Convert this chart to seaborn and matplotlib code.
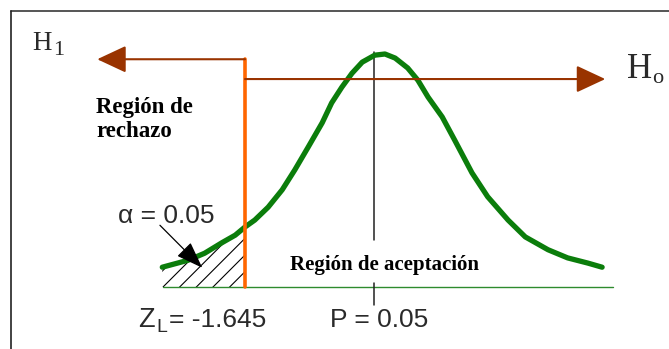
import numpy as np
import matplotlib
matplotlib.use("Agg")
import matplotlib.pyplot as plt
import seaborn as sns

# curve (z units, height in density units)
z_curve = [-2.70, -2.37, -2.16, -1.94, -1.77, -1.645, -1.52, -1.35, -1.17, -1.01,
           -0.84, -0.66, -0.54, -0.41, -0.28, -0.15, 0.01, 0.14, 0.27, 0.43,
           0.56, 0.69, 0.87, 1.03, 1.25, 1.45, 1.71, 1.93, 2.22, 2.47, 2.73, 2.91]
h_curve = [0.034, 0.046, 0.058, 0.076, 0.089, 0.103, 0.115, 0.137, 0.167, 0.201,
           0.240, 0.282, 0.316, 0.343, 0.367, 0.386, 0.398, 0.400, 0.393, 0.376,
           0.355, 0.326, 0.292, 0.252, 0.196, 0.155, 0.115, 0.086, 0.064, 0.050, 0.041, 0.034]

z_crit = -1.645
z_center = 0.0
baseline_z = [-2.69, 3.05]
h1_tip = -3.53
h1_level = 0.391
ho_tip = 2.95
ho_level = 0.357
center_top = 0.403
center_bottom = 0.081
tick_span = [-0.031, 0.007]

sns.set_theme(style="white")
plt.rcParams["font.family"] = ["Liberation Serif", "DejaVu Sans"]
plt.rcParams["hatch.linewidth"] = 0.8

fig = plt.figure(figsize=(6.69, 3.49), dpi=100)
ax = fig.add_axes([0, 0, 1, 1])
ax.set_xlim(-4.770, 3.763)
ax.set_ylim(-0.1064, 0.4927)
ax.axis("off")

# frame (only top and left show)
fig.add_artist(plt.Line2D([11 / 669, 1], [1 - 11 / 349, 1 - 11 / 349], color="#555555", lw=1.4))
fig.add_artist(plt.Line2D([11 / 669, 11 / 669], [0, 1 - 11 / 349], color="#222222", lw=1.2))

zc = np.array(z_curve)
hc = np.array(h_curve)

# shaded rejection tail
mask = zc <= z_crit
ax.fill_between(zc[mask], 0, hc[mask], hatch="//", facecolor="none",
                edgecolor="black", linewidth=0)

# baseline
ax.plot(baseline_z, [0, 0], color="#2E8B2E", lw=1.0)

# center line and tick
ax.plot([z_center, z_center], [center_bottom, center_top], color="#222222", lw=1.1)
ax.plot([z_center, z_center], tick_span, color="#222222", lw=1.1)

# the curve
sns.lineplot(x=zc, y=hc, ax=ax, color="#0B7D0B", lw=3.8, estimator=None, sort=False)

# critical value line
ax.plot([z_crit, z_crit], [0, h1_level], color="#FF6600", lw=2.6)

# H1 / Ho arrows
brown = "#993300"
ax.annotate("", xy=(h1_tip, h1_level), xytext=(z_crit, h1_level),
            arrowprops=dict(arrowstyle="-|>,head_length=1.5,head_width=0.7",
                            color=brown, lw=1.5, shrinkA=0, shrinkB=0))
ax.annotate("", xy=(ho_tip, ho_level), xytext=(z_crit, ho_level),
            arrowprops=dict(arrowstyle="-|>,head_length=1.5,head_width=0.7",
                            color=brown, lw=1.5, shrinkA=0, shrinkB=0))

# alpha pointer
ax.annotate("", xy=(-2.19, 0.033), xytext=(-2.73, 0.106),
            arrowprops=dict(arrowstyle="-|>,head_length=1.4,head_width=0.5",
                            color="black", lw=0.9, shrinkA=0, shrinkB=0))

serif = "Liberation Serif"
sans = "Liberation Sans"
ink = "#2a2a2a"

ax.text(-4.36, 0.407, "H", fontsize=19.5, family=serif, color=ink, va="baseline")
ax.text(-4.094, 0.398, "1", fontsize=16, family=serif, color=ink, va="baseline")
ax.text(3.227, 0.3588, "H", fontsize=25, family=serif, color=ink, va="baseline")
ax.text(3.546, 0.350, "o", fontsize=16, family=serif, color=ink, va="baseline")

ax.text(-3.546, 0.288, "Región de\nrechazo", fontsize=16.5, family=serif,
        fontweight="bold", color="black", va="center", linespacing=1.2)
ax.text(-1.071, 0.029, "Región de aceptación", fontsize=15, family=serif,
        fontweight="bold", color="black", va="baseline")

ax.text(-3.265, 0.110, "α = 0.05", fontsize=19, family=sans, color=ink, va="baseline")
ax.text(-3.010, -0.0687, "Z", fontsize=19.5, family=sans, color=ink, va="baseline")
ax.text(-2.770, -0.0773, "L", fontsize=14, family=sans, color=ink, va="baseline")
ax.text(-2.615, -0.0687, "= -1.645", fontsize=19, family=sans, color=ink, va="baseline")
ax.text(-0.561, -0.0687, "P = 0.05", fontsize=19, family=sans, color=ink, va="baseline")

fig.savefig("out.png", dpi=100)
